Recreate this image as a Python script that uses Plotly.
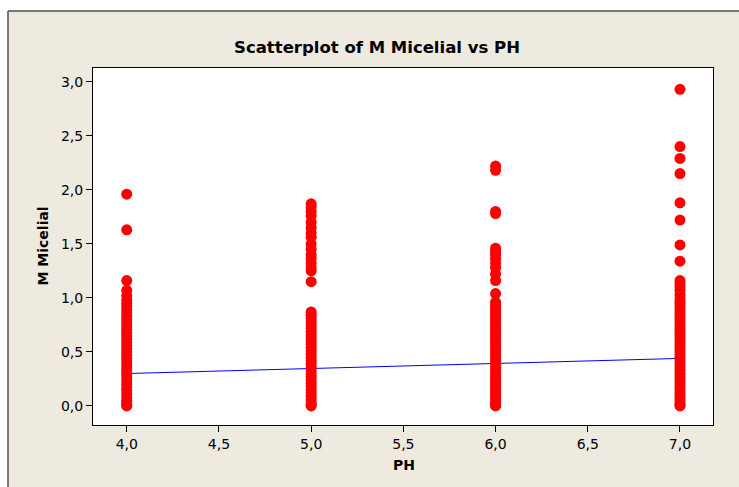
import plotly.graph_objects as go

# pH levels and M Micelial values
ph_levels = [4.0, 5.0, 6.0, 7.0]

m_ph4 = [1.96, 1.63, 1.16, 1.07, 1.02, 0.98, 0.95, 0.92, 0.89, 0.86, 0.83, 0.80,
         0.77, 0.74, 0.71, 0.68, 0.65, 0.62, 0.59, 0.56, 0.53, 0.50, 0.47, 0.44,
         0.41, 0.38, 0.35, 0.32, 0.29, 0.26, 0.23, 0.20, 0.17, 0.14, 0.11, 0.08,
         0.05, 0.03, 0.01, 0.0]

m_ph5 = [1.87, 1.84, 1.80, 1.76, 1.70, 1.65, 1.60, 1.56, 1.50, 1.45, 1.40, 1.36,
         1.32, 1.28, 1.25, 1.15, 0.87, 0.84, 0.81, 0.78, 0.75, 0.72, 0.69, 0.66,
         0.63, 0.60, 0.57, 0.54, 0.51, 0.48, 0.45, 0.42, 0.39, 0.36, 0.33, 0.30,
         0.27, 0.24, 0.21, 0.18, 0.15, 0.12, 0.09, 0.06, 0.03, 0.01, 0.0]

m_ph6 = [2.22, 2.18, 1.80, 1.78, 1.46, 1.43, 1.40, 1.36, 1.32, 1.28, 1.22, 1.16,
         1.04, 0.96, 0.93, 0.90, 0.87, 0.84, 0.81, 0.78, 0.75, 0.72, 0.69, 0.66,
         0.63, 0.60, 0.57, 0.54, 0.51, 0.48, 0.45, 0.42, 0.39, 0.36, 0.33, 0.30,
         0.27, 0.24, 0.21, 0.18, 0.15, 0.12, 0.09, 0.06, 0.03, 0.01, 0.0]

m_ph7 = [2.93, 2.40, 2.29, 2.15, 1.88, 1.72, 1.49, 1.34, 1.16, 1.13, 1.10, 1.07,
         1.03, 0.99, 0.96, 0.93, 0.90, 0.87, 0.84, 0.81, 0.78, 0.75, 0.72, 0.69,
         0.66, 0.63, 0.60, 0.57, 0.54, 0.51, 0.48, 0.45, 0.42, 0.39, 0.36, 0.33,
         0.30, 0.27, 0.24, 0.21, 0.18, 0.15, 0.12, 0.09, 0.06, 0.03, 0.01, 0.0]

# fitted regression line endpoints
fit_x = [4.0, 7.0]
fit_y = [0.30, 0.44]

x_ticks = [4.0, 4.5, 5.0, 5.5, 6.0, 6.5, 7.0]
y_ticks = [0.0, 0.5, 1.0, 1.5, 2.0, 2.5, 3.0]

groups = [m_ph4, m_ph5, m_ph6, m_ph7]
xs, ys = [], []
for ph, vals in zip(ph_levels, groups):
    xs += [ph] * len(vals)
    ys += vals

fig = go.Figure()
fig.add_trace(go.Scatter(x=fit_x, y=fit_y, mode="lines",
                         line=dict(color="#0000FF", width=1), hoverinfo="skip"))
fig.add_trace(go.Scatter(x=xs, y=ys, mode="markers",
                         marker=dict(color="#FF0000", size=11, line=dict(width=0))))

font_family = "DejaVu Sans, Arial, sans-serif"

W, H = 739, 487
ML, MR, MT, MB = 93, 26, 68, 62
PW, PH_ = W - ML - MR, H - MT - MB

panel_top = 1 + (MT - 11) / PH_
panel_left = (8 - ML) / PW

fig.update_layout(
    width=W, height=H,
    margin=dict(l=ML, r=MR, t=MT, b=MB, autoexpand=False),
    paper_bgcolor="white",
    plot_bgcolor="white",
    showlegend=False,
    separators=",.",
    font=dict(family=font_family, size=14, color="#000000"),
    title=dict(text="<b>Scatterplot of M Micelial vs PH</b>",
               x=377 / W, xanchor="center", y=1 - 47 / H, yanchor="middle",
               font=dict(size=16.5, family=font_family, color="#000000")),
    shapes=[
        dict(type="rect", xref="paper", yref="paper", layer="below",
             x0=panel_left, x1=1 + MR / PW, y0=-MB / PH_, y1=panel_top,
             fillcolor="#EEEAE0", line=dict(width=0)),
        dict(type="rect", xref="paper", yref="paper", layer="below",
             x0=0, x1=1, y0=0, y1=1,
             fillcolor="white", line=dict(width=0)),
        dict(type="line", xref="paper", yref="paper", layer="below",
             x0=panel_left, x1=1 + MR / PW, y0=panel_top, y1=panel_top,
             line=dict(color="#505050", width=1.5)),
        dict(type="line", xref="paper", yref="paper", layer="below",
             x0=panel_left, x1=panel_left, y0=-MB / PH_, y1=panel_top,
             line=dict(color="#505050", width=1.5)),
    ],
    annotations=[
        dict(text="<b>M Micelial</b>", xref="paper", yref="paper",
             x=(42 - ML) / PW, y=0.5, xanchor="center", yanchor="middle",
             textangle=-90, showarrow=False,
             font=dict(size=14, family=font_family, color="#000000")),
        dict(text="<b>PH</b>", xref="paper", yref="paper",
             x=(404 - ML) / PW, y=-40 / PH_, xanchor="center", yanchor="middle",
             showarrow=False,
             font=dict(size=14, family=font_family, color="#000000")),
    ],
)

fig.update_xaxes(
    range=[3.817, 7.179], tickvals=x_ticks, tickformat=".1f",
    showgrid=False, zeroline=False,
    showline=True, linecolor="#000000", linewidth=1, mirror=True,
    ticks="outside", ticklen=6, tickcolor="#000000",
    tickfont=dict(size=14, color="#000000"),
)
fig.update_yaxes(
    range=[-0.176, 3.127], tickvals=y_ticks, tickformat=".1f",
    showgrid=False, zeroline=False,
    showline=True, linecolor="#000000", linewidth=1, mirror=True,
    ticks="outside", ticklen=6, tickcolor="#000000",
    tickfont=dict(size=14, color="#000000"),
)

# remove the browser's default body margin so the figure fills the window exactly
fig.write_html(
    "out.html",
    config={"displayModeBar": False},
    post_script="document.body.style.margin='0';document.body.style.overflow='hidden';",
)
